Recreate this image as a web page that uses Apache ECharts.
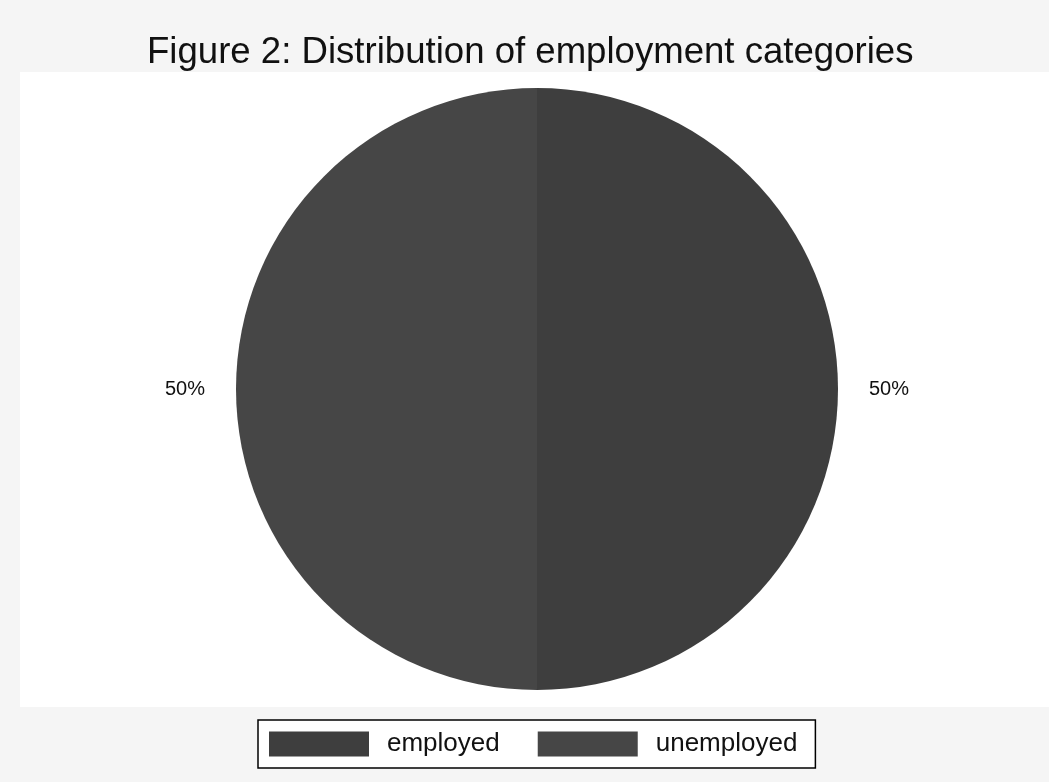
<!DOCTYPE html>
<html>
<head>
<meta charset="utf-8">
<script src="https://cdn.jsdelivr.net/npm/echarts@6/dist/echarts.min.js"></script>
<style>html,body{margin:0;padding:0;background:#fff}#c{width:1049px;height:782px}</style>
</head>
<body>
<div id="c"></div>
<script>
var titleText = 'Figure 2: Distribution of employment categories';
var categories = ['employed', 'unemployed'];
var values = [50, 50];
var colors = ['#3e3e3e', '#464646'];

var chart = echarts.init(document.getElementById('c'), null, {renderer: 'canvas'});
var font = '"Liberation Sans", Arial, sans-serif';
chart.setOption({
  backgroundColor: '#f5f5f5',
  animation: false,
  graphic: [{
    type: 'rect', z: -10, silent: true,
    shape: {x: 20, y: 72, width: 1029, height: 635},
    style: {fill: '#ffffff'}
  }],
  title: {
    text: titleText, left: 142, top: 29,
    textStyle: {fontFamily: font, fontSize: 36.6, fontWeight: 'normal', color: '#111'}
  },
  legend: {
    left: 258, top: 720,
    orient: 'horizontal',
    padding: [11, 18, 11, 11],
    borderColor: '#000', borderWidth: 1.5,
    backgroundColor: '#fff',
    itemWidth: 100, itemHeight: 25, itemGap: 38,
    icon: 'rect',
    data: categories,
    textStyle: {fontFamily: font, fontSize: 26, color: '#111', padding: [0, 0, 0, 13]}
  },
  series: [{
    type: 'pie',
    center: [537, 389],
    radius: 301,
    startAngle: 90,
    clockwise: true,
    avoidLabelOverlap: false,
    label: {
      show: true, position: 'outside', formatter: '{d}%',
      fontFamily: font, fontSize: 20, color: '#111'
    },
    labelLine: {show: false, length: 26, length2: 0},
    emphasis: {disabled: true},
    data: categories.map(function (c, i) {
      return {name: c, value: values[i], itemStyle: {color: colors[i]}};
    })
  }]
});
</script>
</body>
</html>
